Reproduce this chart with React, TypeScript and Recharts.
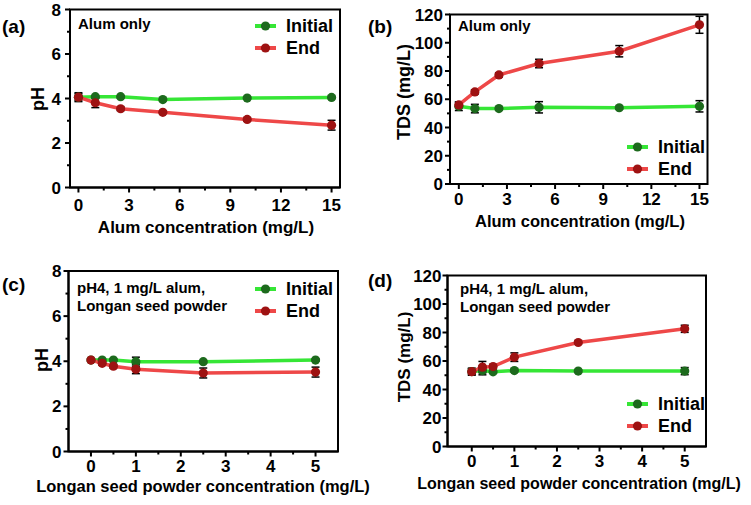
import React from 'react';
import { LineChart, Line, XAxis, YAxis, ErrorBar, ReferenceArea } from 'recharts';

const W = 751;
const H = 505;
const FONT = '"Liberation Sans", Arial, sans-serif';
const AXIS_H = 30;
const AXIS_W = 40;
const TICK_FONT = 17;

// doses (mg/L)
const alumDose = [0, 1, 2.5, 5, 10, 15];
const seedDose = [0, 0.25, 0.5, 1, 2.5, 5];

// (a) pH, alum only
const phAlumInitial = [4.06, 4.08, 4.08, 3.95, 4.02, 4.05];
const phAlumInitialErr = [0.15, 0.05, 0.05, 0.05, 0.05, 0.05];
const phAlumEnd = [4.06, 3.81, 3.54, 3.38, 3.06, 2.8];
const phAlumEndErr = [0.2, 0.22, 0.08, 0.06, 0.08, 0.22];

// (b) TDS, alum only
const tdsAlumInitial = [55, 53.4, 53.4, 54.3, 54, 55];
const tdsAlumInitialErr = [3, 3, 1, 4, 1, 4];
const tdsAlumEnd = [56, 65.2, 77.2, 85.3, 94, 112.7];
const tdsAlumEndErr = [2, 1.5, 1.5, 3, 4, 6];

// (c) pH, longan seed powder
const phSeedInitial = [4.05, 4.05, 4.05, 3.98, 3.98, 4.05];
const phSeedInitialErr = [0.05, 0.05, 0.05, 0.2, 0.05, 0.05];
const phSeedEnd = [4.05, 3.91, 3.78, 3.65, 3.48, 3.52];
const phSeedEndErr = [0.05, 0.08, 0.08, 0.2, 0.22, 0.22];

// (d) TDS, longan seed powder
const tdsSeedInitial = [52.6, 53.3, 52.4, 53.3, 52.9, 52.9];
const tdsSeedInitialErr = [2, 3, 1, 1, 1, 2.5];
const tdsSeedEnd = [52.5, 55.7, 56.1, 62.7, 73, 82.6];
const tdsSeedEndErr = [2.5, 4, 1.5, 3, 1, 2.5];

const alumTicks = [0, 3, 6, 9, 12, 15];
const alumMinor = [1.5, 4.5, 7.5, 10.5, 13.5];
const seedTicks = [0, 1, 2, 3, 4, 5];
const seedMinor = [0.5, 1.5, 2.5, 3.5, 4.5];
const phTicks = [0, 2, 4, 6, 8];
const phMinor = [1, 3, 5, 7];
const tdsTicks = [0, 20, 40, 60, 80, 100, 120];
const tdsMinor = [10, 30, 50, 70, 90, 110];

const GREEN_LINE = '#36e636';
const GREEN_DOT = '#1d6a1d';
const RED_LINE = '#ee4848';
const RED_DOT = '#9e1212';

const rows = (xs: number[], a: number[], aErr: number[], b: number[], bErr: number[]) =>
  xs.map((x, i) => ({ x, initial: a[i], initialErr: aErr[i], end: b[i], endErr: bErr[i] }));

interface Box { l: number; t: number; r: number; b: number }

interface PanelProps {
  data: ReturnType<typeof rows>;
  box: Box;
  xDomain: [number, number];
  yDomain: [number, number];
  xMajor: number[];
  xMinor: number[];
  yMajor: number[];
  yMinor: number[];
  xLabelDy: number;
  yLabelGap: number;
}

function Panel({ data, box, xDomain, yDomain, xMajor, xMinor, yMajor, yMinor, xLabelDy, yLabelGap }: PanelProps) {
  // tick marks are drawn here too, so minor ticks can be shorter and unlabelled
  const xTick = (p: any) => {
    const v = p.payload.value;
    const major = xMajor.includes(v);
    return (
      <g>
        <line x1={p.x} x2={p.x} y1={box.b} y2={box.b + (major ? 5 : 3)} stroke="#000" strokeWidth={2} />
        {major && (
          <text x={p.x} y={box.b + xLabelDy} textAnchor="middle" fontFamily={FONT} fontWeight="bold" fontSize={TICK_FONT} fill="#000">
            {v}
          </text>
        )}
      </g>
    );
  };
  const yTick = (p: any) => {
    const v = p.payload.value;
    const major = yMajor.includes(v);
    return (
      <g>
        <line x1={box.l - (major ? 5 : 3)} x2={box.l} y1={p.y} y2={p.y} stroke="#000" strokeWidth={2} />
        {major && (
          <text x={box.l - yLabelGap} y={p.y} dy="0.36em" textAnchor="end" fontFamily={FONT} fontWeight="bold" fontSize={TICK_FONT} fill="#000">
            {v}
          </text>
        )}
      </g>
    );
  };
  const dot = (c: string) => ({ r: 4.6, fill: c, stroke: c, strokeWidth: 0 });
  return (
    <div style={{ position: 'absolute', left: 0, top: 0 }}>
      <LineChart
        width={W}
        height={H}
        data={data}
        margin={{ top: box.t, left: box.l - AXIS_W, right: W - box.r, bottom: H - box.b - AXIS_H }}
      >
        <XAxis
          type="number"
          dataKey="x"
          domain={xDomain}
          allowDataOverflow
          ticks={[...xMajor, ...xMinor]}
          interval={0}
          tick={xTick}
          tickLine={false}
          axisLine={{ stroke: '#000', strokeWidth: 2 }}
          height={AXIS_H}
        />
        <YAxis
          type="number"
          domain={yDomain}
          allowDataOverflow
          ticks={[...yMajor, ...yMinor]}
          interval={0}
          tick={yTick}
          tickLine={false}
          axisLine={{ stroke: '#000', strokeWidth: 2 }}
          width={AXIS_W}
        />
        <ReferenceArea
          x1={xDomain[0]}
          x2={xDomain[1]}
          y1={yDomain[0]}
          y2={yDomain[1]}
          fill="none"
          stroke="#000"
          strokeWidth={2}
        />
        <Line
          dataKey="initial"
          stroke={GREEN_LINE}
          strokeWidth={3.5}
          dot={dot(GREEN_DOT)}
          activeDot={false}
          isAnimationActive={false}
        >
          <ErrorBar dataKey="initialErr" direction="y" width={4} stroke="#000" strokeWidth={1.5} />
        </Line>
        <Line
          dataKey="end"
          stroke={RED_LINE}
          strokeWidth={3.5}
          dot={dot(RED_DOT)}
          activeDot={false}
          isAnimationActive={false}
        >
          <ErrorBar dataKey="endErr" direction="y" width={4} stroke="#000" strokeWidth={1.5} />
        </Line>
      </LineChart>
    </div>
  );
}

function LegendKey({ x, y }: { x: number; y: number }) {
  const item = (cy: number, line: string, dotC: string, label: string) => (
    <g>
      <line x1={x} x2={x + 21} y1={cy} y2={cy} stroke={line} strokeWidth={4} />
      <circle cx={x + 10.5} cy={cy} r={4.6} fill={dotC} />
      <text x={x + 31} y={cy} dy="0.36em" fontFamily={FONT} fontWeight="bold" fontSize={18}>
        {label}
      </text>
    </g>
  );
  return (
    <g>
      {item(y, GREEN_LINE, GREEN_DOT, 'Initial')}
      {item(y + 22, RED_LINE, RED_DOT, 'End')}
    </g>
  );
}

const t = { fontFamily: FONT, fontWeight: 'bold' as const, fill: '#000' };

export default function App() {
  return (
    <div style={{ position: 'absolute', left: 0, top: 0, width: W, height: H, background: '#fff' }}>
      <Panel
        data={rows(alumDose, phAlumInitial, phAlumInitialErr, phAlumEnd, phAlumEndErr)}
        box={{ l: 70, t: 9.5, r: 340, b: 187.5 }}
        xDomain={[-0.5, 15.5]}
        yDomain={[0, 8]}
        xMajor={alumTicks}
        xMinor={alumMinor}
        yMajor={phTicks}
        yMinor={phMinor}
        xLabelDy={23.5}
        yLabelGap={9}
      />
      <Panel
        data={rows(alumDose, tdsAlumInitial, tdsAlumInitialErr, tdsAlumEnd, tdsAlumEndErr)}
        box={{ l: 450, t: 14.5, r: 707.5, b: 184 }}
        xDomain={[-0.55, 15.5]}
        yDomain={[0, 120]}
        xMajor={alumTicks}
        xMinor={alumMinor}
        yMajor={tdsTicks}
        yMinor={tdsMinor}
        xLabelDy={21}
        yLabelGap={7}
      />
      <Panel
        data={rows(seedDose, phSeedInitial, phSeedInitialErr, phSeedEnd, phSeedEndErr)}
        box={{ l: 68.5, t: 271, r: 338, b: 451.5 }}
        xDomain={[-0.5, 5.5]}
        yDomain={[0, 8]}
        xMajor={seedTicks}
        xMinor={seedMinor}
        yMajor={phTicks}
        yMinor={phMinor}
        xLabelDy={20.5}
        yLabelGap={7}
      />
      <Panel
        data={rows(seedDose, tdsSeedInitial, tdsSeedInitialErr, tdsSeedEnd, tdsSeedEndErr)}
        box={{ l: 447.5, t: 275.5, r: 706, b: 446.5 }}
        xDomain={[-0.57, 5.5]}
        yDomain={[0, 120]}
        xMajor={seedTicks}
        xMinor={seedMinor}
        yMajor={tdsTicks}
        yMinor={tdsMinor}
        xLabelDy={20}
        yLabelGap={6}
      />
      <svg width={W} height={H} style={{ position: 'absolute', left: 0, top: 0 }}>
        {/* panel letters */}
        <text x={2} y={33} fontSize={19} {...t}>(a)</text>
        <text x={368} y={33} fontSize={19} {...t}>(b)</text>
        <text x={2} y={291} fontSize={19} {...t}>(c)</text>
        <text x={368} y={287} fontSize={19} {...t}>(d)</text>

        {/* axis titles */}
        <text x={206} y={233} textAnchor="middle" fontSize={17} {...t}>Alum concentration (mg/L)</text>
        <text x={580} y={227} textAnchor="middle" fontSize={16.5} {...t}>Alum concentration (mg/L)</text>
        <text x={203} y={492} textAnchor="middle" fontSize={16.5} {...t}>Longan seed powder concentration (mg/L)</text>
        <text x={579} y={489} textAnchor="middle" fontSize={16} {...t}>Longan seed powder concentration (mg/L)</text>
        <text transform="translate(38,99) rotate(-90)" textAnchor="middle" dy="0.36em" fontSize={18} {...t}>pH</text>
        <text transform="translate(404,92) rotate(-90)" textAnchor="middle" dy="0.36em" fontSize={18} {...t}>TDS (mg/L)</text>
        <text transform="translate(42,360) rotate(-90)" textAnchor="middle" dy="0.36em" fontSize={18} {...t}>pH</text>
        <text transform="translate(404,357) rotate(-90)" textAnchor="middle" dy="0.36em" fontSize={17} {...t}>TDS (mg/L)</text>

        {/* condition notes */}
        <text x={78} y={29} fontSize={15} {...t}>Alum only</text>
        <text x={458} y={31} fontSize={15} {...t}>Alum only</text>
        <text x={77} y={293} fontSize={15} {...t}>pH4, 1 mg/L alum,</text>
        <text x={77} y={311} fontSize={15} {...t}>Longan seed powder</text>
        <text x={460} y={294} fontSize={15} {...t}>pH4, 1 mg/L alum,</text>
        <text x={460} y={312} fontSize={15} {...t}>Longan seed powder</text>

        {/* legends */}
        <LegendKey x={255} y={26} />
        <LegendKey x={627} y={147} />
        <LegendKey x={255} y={289} />
        <LegendKey x={627} y={404} />
      </svg>
    </div>
  );
}
